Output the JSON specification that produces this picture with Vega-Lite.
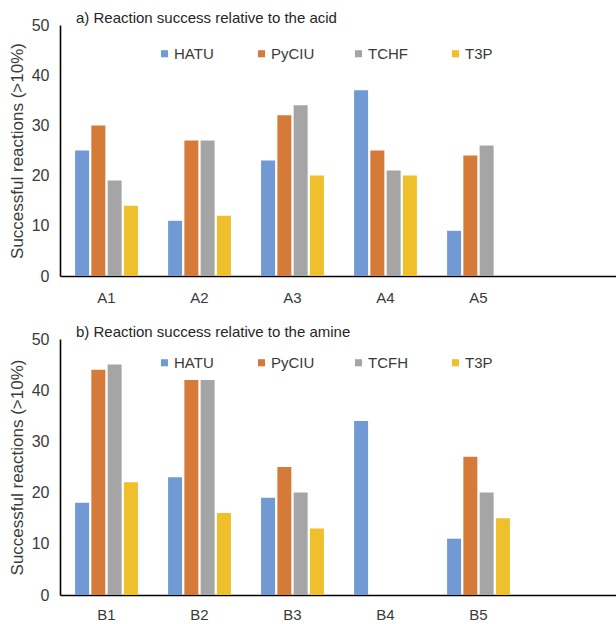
{
  "$schema": "https://vega.github.io/schema/vega-lite/v6.json",
  "background": "white",
  "padding": {"left": 8, "top": 11, "right": 0, "bottom": 0},
  "config": {
    "view": {"stroke": null},
    "font": "Liberation Sans",
    "concat": {"spacing": 20},
    "axis": {"grid": false, "ticks": false, "domainColor": "#000000", "domainWidth": 1.6, "labelColor": "#3a3a3a", "titleColor": "#3a3a3a", "labelFont": "Liberation Sans", "titleFont": "Liberation Sans", "titleFontWeight": "normal"},
    "legend": {"labelFont": "Liberation Sans", "labelFontSize": 15, "labelColor": "#3a3a3a", "symbolType": "square", "symbolSize": 50, "symbolStrokeWidth": 0, "labelOffset": 2, "direction": "horizontal", "orient": "none", "columns": 4, "gridAlign": "all", "columnPadding": 36},
    "title": {"font": "Liberation Sans", "fontSize": 15, "fontWeight": "normal", "color": "#262626", "anchor": "start", "frame": "group", "dx": 16, "offset": -9}
  },
  "datasets": {
    "acid": [
      {"g": "A1", "r": "HATU", "v": 25}, {"g": "A1", "r": "PyCIU", "v": 30}, {"g": "A1", "r": "TCHF", "v": 19}, {"g": "A1", "r": "T3P", "v": 14},
      {"g": "A2", "r": "HATU", "v": 11}, {"g": "A2", "r": "PyCIU", "v": 27}, {"g": "A2", "r": "TCHF", "v": 27}, {"g": "A2", "r": "T3P", "v": 12},
      {"g": "A3", "r": "HATU", "v": 23}, {"g": "A3", "r": "PyCIU", "v": 32}, {"g": "A3", "r": "TCHF", "v": 34}, {"g": "A3", "r": "T3P", "v": 20},
      {"g": "A4", "r": "HATU", "v": 37}, {"g": "A4", "r": "PyCIU", "v": 25}, {"g": "A4", "r": "TCHF", "v": 21}, {"g": "A4", "r": "T3P", "v": 20},
      {"g": "A5", "r": "HATU", "v": 9}, {"g": "A5", "r": "PyCIU", "v": 24}, {"g": "A5", "r": "TCHF", "v": 26}
    ],
    "amine": [
      {"g": "B1", "r": "HATU", "v": 18}, {"g": "B1", "r": "PyCIU", "v": 44}, {"g": "B1", "r": "TCFH", "v": 45}, {"g": "B1", "r": "T3P", "v": 22},
      {"g": "B2", "r": "HATU", "v": 23}, {"g": "B2", "r": "PyCIU", "v": 42}, {"g": "B2", "r": "TCFH", "v": 42}, {"g": "B2", "r": "T3P", "v": 16},
      {"g": "B3", "r": "HATU", "v": 19}, {"g": "B3", "r": "PyCIU", "v": 25}, {"g": "B3", "r": "TCFH", "v": 20}, {"g": "B3", "r": "T3P", "v": 13},
      {"g": "B4", "r": "HATU", "v": 34},
      {"g": "B5", "r": "HATU", "v": 11}, {"g": "B5", "r": "PyCIU", "v": 27}, {"g": "B5", "r": "TCFH", "v": 20}, {"g": "B5", "r": "T3P", "v": 15}
    ]
  },
  "resolve": {"scale": {"color": "independent", "x": "independent", "xOffset": "independent"}, "legend": {"color": "independent"}},
  "vconcat": [
    {
      "title": "a) Reaction success relative to the acid",
      "width": 558,
      "height": 251,
      "data": {"name": "acid"},
      "mark": {"type": "bar"},
      "encoding": {
        "x": {"field": "g", "type": "nominal", "title": null, "scale": {"domain": ["A1", "A2", "A3", "A4", "A5", "A6"], "paddingInner": 0.3, "paddingOuter": 0.15}, "axis": {"labelAngle": 0, "labelFontSize": 15, "labelPadding": 14, "labelExpr": "datum.value == 'A6' ? '' : datum.value"}},
        "xOffset": {"field": "r", "type": "nominal", "scale": {"domain": ["HATU", "PyCIU", "TCHF", "T3P"], "paddingInner": 0.14, "paddingOuter": 0.07}},
        "y": {"field": "v", "type": "quantitative", "title": "Successful reactions (>10%)", "scale": {"domain": [0, 50]}, "axis": {"values": [0, 10, 20, 30, 40, 50], "labelFontSize": 16, "labelPadding": 11, "titleFontSize": 17, "titlePadding": 5}},
        "color": {"field": "r", "type": "nominal", "scale": {"domain": ["HATU", "PyCIU", "TCHF", "T3P"], "range": ["#7199d3", "#d57a38", "#a5a5a5", "#efbf2c"]}, "legend": {"title": null, "legendX": 97, "legendY": 21}}
      }
    },
    {
      "title": "b) Reaction success relative to the amine",
      "width": 558,
      "height": 256,
      "data": {"name": "amine"},
      "mark": {"type": "bar"},
      "encoding": {
        "x": {"field": "g", "type": "nominal", "title": null, "scale": {"domain": ["B1", "B2", "B3", "B4", "B5", "B6"], "paddingInner": 0.3, "paddingOuter": 0.15}, "axis": {"labelAngle": 0, "labelFontSize": 15, "labelPadding": 12, "labelExpr": "datum.value == 'B6' ? '' : datum.value"}},
        "xOffset": {"field": "r", "type": "nominal", "scale": {"domain": ["HATU", "PyCIU", "TCFH", "T3P"], "paddingInner": 0.14, "paddingOuter": 0.07}},
        "y": {"field": "v", "type": "quantitative", "title": "Successful reactions (>10%)", "scale": {"domain": [0, 50]}, "axis": {"values": [0, 10, 20, 30, 40, 50], "labelFontSize": 16, "labelPadding": 11, "titleFontSize": 17, "titlePadding": 5}},
        "color": {"field": "r", "type": "nominal", "scale": {"domain": ["HATU", "PyCIU", "TCFH", "T3P"], "range": ["#7199d3", "#d57a38", "#a5a5a5", "#efbf2c"]}, "legend": {"title": null, "legendX": 97, "legendY": 16}}
      }
    }
  ]
}
